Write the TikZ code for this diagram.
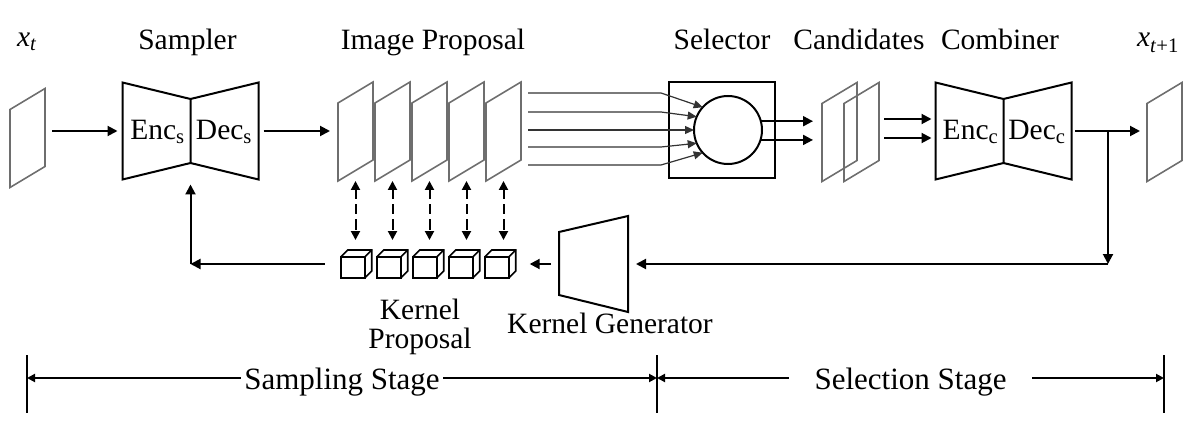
\documentclass[tikz,border=0pt]{standalone}
\usepackage{fontspec}
\setmainfont{Liberation Serif}
\usetikzlibrary{arrows.meta,calc}
\definecolor{framegray}{HTML}{6E6E6E}
\definecolor{wiregray}{HTML}{333333}

\begin{document}
\begin{tikzpicture}[x=1pt,y=-1pt,>={Triangle[length=10pt,width=10pt]},
  lbl/.style={font=\fontsize{29.5}{29}\selectfont,inner sep=0pt,anchor=base},
  hold/.style={inner sep=0pt,outer sep=0pt},
  blk/.style={line width=2pt,line join=miter},
  cube/.style={line width=1.7pt,line join=miter},
  frm/.style={draw=framegray,line width=1.6pt,line join=miter},
  arr/.style={->,line width=2pt},
  thinarr/.style={-{Triangle[length=9pt,width=8pt]},line width=1.2pt,draw=wiregray},
  dasharr/.style={{Triangle[length=9pt,width=9pt]}-{Triangle[length=9pt,width=9pt]},line width=2pt,dash pattern=on 10pt off 5pt},
  stagearr/.style={{Triangle[length=8pt,width=8pt]}-{Triangle[length=8pt,width=8pt]},line width=2pt},
]
\useasboundingbox (0,0) rectangle (1195,425);

% image frames
\foreach \n/\x/\y in {xt/27.5/138,f1/355.5/131.5,f2/392.5/131.5,f3/429.5/131.5,f4/466.5/131.5,f5/503.5/131.5,c1/839.5/132,c2/861.5/132,xt1/1164.5/132}{
  \node[hold,minimum width=35pt,minimum height=99pt] (\n) at (\x,\y) {};
  \draw[frm] (\n.south west) -- ([yshift=-21pt]\n.north west) -- (\n.north east) -- ([yshift=21pt]\n.south east) -- cycle;
}

% sampler and combiner
\foreach \n/\x/\sb in {smp/190.5/s,cmb/1003.5/c}{
  \node[hold,minimum width=136pt,minimum height=97pt] (\n) at (\x,131) {};
  \draw[blk] (\n.north west) -- ([yshift=-16.5pt]\n.north) -- ([yshift=16.5pt]\n.south) -- (\n.south west) -- cycle;
  \draw[blk] ([yshift=-16.5pt]\n.north) -- (\n.north east) -- (\n.south east) -- ([yshift=16.5pt]\n.south);
  \node[lbl] (\n-enc) at ($(\n.west)+(35,9)$) {Enc\textsubscript{\sb}};
  \node[lbl] (\n-dec) at ($(\n.east)+(-34.5,9)$) {Dec\textsubscript{\sb}};
}

% selector
\node[hold,draw,blk,minimum width=106pt,minimum height=96pt] (selbox) at (721.5,130) {};
\node[hold,draw,blk,circle,minimum size=68pt] (sel) at (728,130) {};

% kernel generator
\node[hold,minimum width=69pt,minimum height=96pt] (kgen) at (593.5,264) {};
\draw[blk] ([yshift=-16pt]kgen.north west) -- (kgen.north east) -- (kgen.south east) -- ([yshift=17pt]kgen.south west) -- cycle;

% kernel cubes
\foreach \i in {1,...,5}{
  \node[hold,minimum width=31pt,minimum height=28pt] (k\i) at (356.2+36*\i-36,264) {};
  \draw[cube] (k\i.south west) rectangle ++(24,-21);
  \draw[cube] ([yshift=21pt]k\i.south west) -- ([xshift=7pt]k\i.north west) -- (k\i.north east) -- ([yshift=7pt]k\i.south east) -- ([xshift=-7pt]k\i.south east);
  \draw[cube] ([xshift=-7pt,yshift=21pt]k\i.south east) -- (k\i.north east);
  \draw[dasharr,shorten >=10pt] (f\i.south) -- (f\i.south |- k\i.north);
}

% labels
\node[lbl] (lxt) at (27,47) {\textit{x}\textsubscript{\textit{t}}};
\node[lbl] (lsmp) at (187.5,50) {Sampler};
\node[lbl] (lprop) at (433,50) {Image Proposal};
\node[lbl] (lsel) at (722,50) {Selector};
\node[lbl] (lcand) at (859,50) {Candidates};
\node[lbl] (lcmb) at (1000,50) {Combiner};
\node[lbl] (lxt1) at (1158,47) {\textit{x}\textsubscript{\textit{t}+1}};
\node[lbl,anchor=center,align=center] (lkp) at (420,327) {Kernel\\Proposal};
\node[lbl] (lkg) at (610,333) {Kernel Generator};

% main flow
\draw[arr,shorten <=7pt,shorten >=5pt] ($(xt.east)+(0,-7)$) -- (smp.west);
\draw[arr,shorten <=5pt,shorten >=8pt] (smp.east) -- (smp.east -| f1.west);
\foreach \dy/\a in {-38.5/138,-19.5/157,-1.5/180,15.5/203,33.5/222}
  \draw[thinarr] ($(f5.east)+(7,\dy)$) -- ($(f5.east)+(140,\dy)$) -- (sel.\a);
\draw[arr,shorten >=9pt] (sel.15) -- (sel.15 -| c1.west);
\draw[arr,shorten >=9pt] (sel.-17) -- (sel.-17 -| c1.west);
\foreach \dy in {-13,6}
  \draw[arr,shorten <=5pt,shorten >=4pt] ($(c2.east)+(0,\dy)$) -- ($(cmb.west)+(0,\dy+1)$);
\draw[arr,shorten <=3.5pt,shorten >=7pt] (cmb.east) -- (cmb.east -| xt1.west);

% feedback loop
\coordinate (br) at ($(cmb.east)+(36.5,0)$);
\coordinate (bk) at (br |- kgen.east);
\draw[arr] (br) -- (bk);
\draw[arr,shorten >=8pt] (bk) -- (kgen.east);
\draw[arr,shorten <=8pt,shorten >=14pt] (kgen.west) -- (kgen.west -| k5.east);
\coordinate (sc) at (k1.west -| smp.south);
\draw[arr,shorten <=16pt] (k1.west) -- (sc);
\draw[arr,shorten >=5pt] (sc) -- (smp.south);

% stages
\coordinate (b1) at (27,378);
\coordinate (b2) at (657,378);
\coordinate (b3) at (1164,378);
\foreach \b in {b1,b2,b3}
  \draw[line width=2.5pt] ($(\b)+(0,-23)$) -- ($(\b)+(0,35)$);
\draw[stagearr] (b1) -- (b2) node[lbl,font=\fontsize{31}{31}\selectfont,midway,yshift=-11pt,fill=white,inner xsep=3pt,inner ysep=2pt] (lss) {Sampling Stage};
\draw[stagearr] (b2) -- (b3) node[lbl,font=\fontsize{31}{31}\selectfont,midway,yshift=-11pt,fill=white,inner xsep=26pt,inner ysep=2pt] (lsel2) {Selection Stage};
\end{tikzpicture}
\end{document}
